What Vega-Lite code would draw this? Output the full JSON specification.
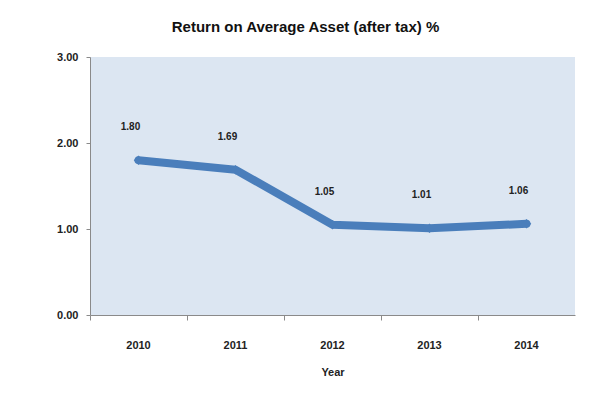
{
  "$schema": "https://vega.github.io/schema/vega-lite/v6.json",
  "width": 485,
  "height": 258,
  "autosize": {"type": "none"},
  "padding": {"left": 90, "top": 57, "right": 20, "bottom": 85},
  "background": "white",
  "title": {
    "text": "Return on Average Asset (after tax) %",
    "font": "Liberation Sans",
    "fontSize": 15,
    "fontWeight": "bold",
    "color": "#111111",
    "anchor": "middle",
    "dx": -27,
    "offset": 16
  },
  "config": {
    "view": {"fill": "#dce6f2", "stroke": null},
    "font": "Liberation Sans"
  },
  "data": {
    "values": [
      {"Year": "2010", "ROA": 1.80},
      {"Year": "2011", "ROA": 1.69},
      {"Year": "2012", "ROA": 1.05},
      {"Year": "2013", "ROA": 1.01},
      {"Year": "2014", "ROA": 1.06}
    ]
  },
  "encoding": {
    "y": {
      "field": "ROA",
      "type": "quantitative",
      "scale": {"domain": [0, 3], "nice": false},
      "axis": {
        "values": [0, 1, 2, 3],
        "format": ".2f",
        "title": null,
        "grid": false,
        "domainColor": "#8a8a8a",
        "tickColor": "#8a8a8a",
        "tickSize": 4,
        "labelPadding": 8,
        "labelFont": "Liberation Sans",
        "labelFontSize": 11,
        "labelFontWeight": "bold",
        "labelColor": "#222222"
      }
    }
  },
  "layer": [
    {
      "mark": {"type": "line", "color": "#4a7ebb", "strokeWidth": 8, "strokeJoin": "round", "strokeCap": "round",
               "point": {"filled": true, "color": "#4a7ebb", "size": 90, "shape": "diamond"}},
      "encoding": {
        "x": {
          "field": "Year",
          "type": "ordinal",
          "bandPosition": 0.5,
          "scale": {"type": "band", "paddingInner": 0, "paddingOuter": 0},
          "axis": {
            "orient": "bottom",
            "title": "Year",
            "titleFont": "Liberation Sans",
            "titleFontSize": 11,
            "titleFontWeight": "bold",
            "titleColor": "#222222",
            "titlePadding": 16,
            "ticks": false,
            "domainColor": "#8a8a8a",
            "labelAngle": 0,
            "labelPadding": 24,
            "labelFont": "Liberation Sans",
            "labelFontSize": 11,
            "labelFontWeight": "bold",
            "labelColor": "#222222"
          }
        }
      }
    },
    {
      "mark": {"type": "text", "dy": -33, "dx": -8, "font": "Liberation Sans", "fontSize": 10, "fontWeight": "bold", "color": "#222222"},
      "encoding": {
        "x": {
          "field": "Year",
          "type": "ordinal",
          "bandPosition": 0.5,
          "axis": {
            "orient": "bottom",
            "labels": false,
            "title": null,
            "ticks": true,
            "bandPosition": 0,
            "tickSize": 5,
            "tickColor": "#8a8a8a",
            "domain": false
          }
        },
        "text": {"field": "ROA", "type": "quantitative", "format": ".2f"}
      }
    }
  ],
  "resolve": {"axis": {"x": "independent"}}
}
